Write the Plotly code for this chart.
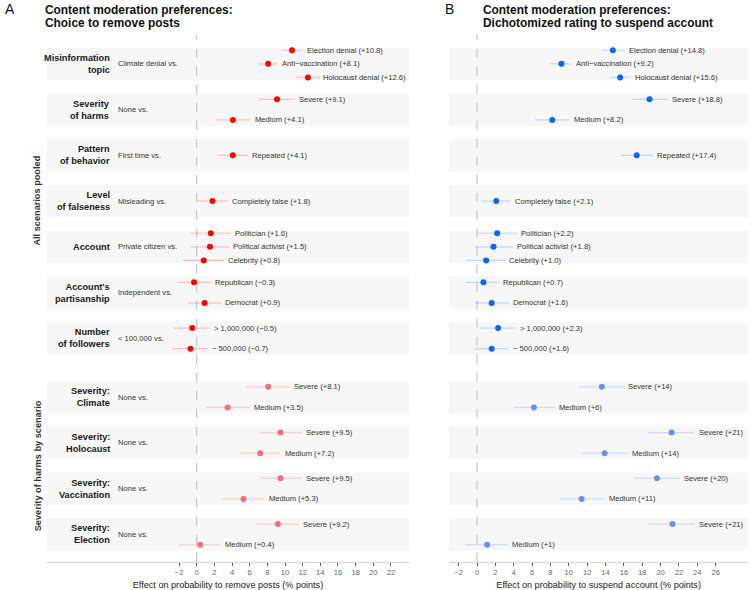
import plotly.graph_objects as go

# ---------------- data ----------------
facet_labels = ["Misinformation<br>topic", "Severity<br>of harms", "Pattern<br>of behavior",
                "Level<br>of falseness", "Account", "Account's<br>partisanship", "Number<br>of followers",
                "Severity:<br>Climate", "Severity:<br>Holocaust", "Severity:<br>Vaccination", "Severity:<br>Election"]
facet_baselines = ["Climate denial vs.", "None vs.", "First time vs.", "Misleading vs.",
                   "Private citizen vs.", "Independent vs.", "< 100,000 vs.",
                   "None vs.", "None vs.", "None vs.", "None vs."]
facet_group = [0, 0, 0, 0, 0, 0, 0, 1, 1, 1, 1]
group_labels = ["All scenarios pooled", "Severity of harms by scenario"]

row_facet = [0, 0, 0, 1, 1, 2, 3, 4, 4, 4, 5, 5, 6, 6, 7, 7, 8, 8, 9, 9, 10, 10]
row_level = ["Election denial", "Anti\u2212vaccination", "Holocaust denial", "Severe", "Medium",
             "Repeated", "Completely false", "Politician", "Political activist", "Celebrity",
             "Republican", "Democrat", "> 1,000,000", "~ 500,000",
             "Severe", "Medium", "Severe", "Medium", "Severe", "Medium", "Severe", "Medium"]

# Panel A: choice to remove posts
remove_est = [10.8, 8.1, 12.6, 9.1, 4.1, 4.1, 1.8, 1.6, 1.5, 0.8, -0.3, 0.9, -0.5, -0.7,
              8.1, 3.5, 9.5, 7.2, 9.5, 5.3, 9.2, 0.4]
remove_lo = [9.6, 7.0, 11.3, 7.0, 2.1, 2.4, 0.1, -0.7, -0.7, -1.6, -2.2, -1.0, -2.6, -2.8,
             5.6, 1.1, 7.1, 4.9, 7.1, 2.9, 6.8, -2.0]
remove_hi = [12.0, 9.2, 13.9, 11.1, 6.1, 5.8, 3.5, 3.9, 3.7, 3.1, 1.6, 2.8, 1.5, 1.3,
             10.6, 6.0, 11.9, 9.5, 11.9, 7.7, 11.6, 2.7]
remove_decimals = [1] * 22

# Panel B: dichotomized rating to suspend account
suspend_est = [14.8, 9.2, 15.6, 18.8, 8.2, 17.4, 2.1, 2.2, 1.8, 1.0, 0.7, 1.6, 2.3, 1.6,
               13.6, 6.2, 21.2, 13.9, 19.6, 11.4, 21.3, 1.1]
suspend_lo = [13.6, 8.0, 14.4, 16.9, 6.3, 15.7, 0.5, 0.0, -0.2, -1.2, -1.2, -0.2, 0.3, -0.3,
              11.1, 4.0, 18.7, 11.4, 17.1, 9.0, 18.7, -1.3]
suspend_hi = [16.1, 10.3, 16.8, 20.8, 10.1, 19.2, 3.7, 4.35, 3.9, 3.05, 2.4, 3.45, 4.2, 3.45,
              16.0, 8.5, 23.7, 16.4, 22.1, 13.9, 23.7, 3.4]
suspend_decimals = [1] * 14 + [0] * 8

remove_ticks = list(range(-2, 23, 2))
suspend_ticks = list(range(-2, 27, 2))

# ---------------- layout constants ----------------
W, H = 750, 590
FONT = "Liberation Sans, Arial, sans-serif"
PX_UNIT = 45.75           # pixels per facet slot
Y0_PX = 47.7              # pixel of first band top
TOP_PX, BOT_PX = 35.0, 561.7
BAND_H = 32.3 / PX_UNIT
GROUP_GAP = 0.285
ROW_SPACING = {1: 0.0, 2: 0.45, 3: 0.297}

def facet_top(i):
    g = facet_group[i]
    return i + (GROUP_GAP if g == 1 else 0.0)

def row_positions():
    ys = []
    for r, f in enumerate(row_facet):
        members = [k for k, ff in enumerate(row_facet) if ff == f]
        n = len(members)
        idx = members.index(r)
        c = facet_top(f) + BAND_H / 2
        ys.append(c + (idx - (n - 1) / 2) * ROW_SPACING[n])
    return ys

row_y = row_positions()

y_range = [(BOT_PX - Y0_PX) / PX_UNIT, (TOP_PX - Y0_PX) / PX_UNIT]
y_domain = [1 - BOT_PX / H, 1 - TOP_PX / H]

# x axes: pixel extents and px/unit
A_L, A_R, A_ZERO, A_PPU = 47.0, 409.0, 196.7, 8.83
B_L, B_R, B_ZERO, B_PPU = 449.0, 748.3, 477.0, 9.18
a_range = [(A_L - A_ZERO) / A_PPU, (A_R - A_ZERO) / A_PPU]
b_range = [(B_L - B_ZERO) / B_PPU, (B_R - B_ZERO) / B_PPU]

colors = {
    ("A", 0): ("#FF0000", "rgba(255,0,0,0.22)"),
    ("A", 1): ("#EC6F82", "rgba(236,111,130,0.28)"),
    ("B", 0): ("#0A68EE", "rgba(10,104,238,0.22)"),
    ("B", 1): ("#6C8FEB", "rgba(108,143,235,0.28)"),
}

fig = go.Figure()
annotations = []
shapes = []

def fmt(v, d):
    s = f"{abs(v):.{d}f}"
    return ("+" if v >= 0 else "\u2212") + s

panels = [("A", "x", remove_est, remove_lo, remove_hi, remove_decimals),
          ("B", "x2", suspend_est, suspend_lo, suspend_hi, suspend_decimals)]

for pname, xa, est, lo, hi, decs in panels:
    for g in (0, 1):
        idx = [r for r in range(len(row_facet)) if facet_group[row_facet[r]] == g]
        pc, lc = colors[(pname, g)]
        fig.add_trace(go.Scatter(
            x=[est[r] for r in idx], y=[row_y[r] for r in idx],
            xaxis=xa, yaxis="y", mode="markers",
            marker=dict(color=pc, size=6),
            error_x=dict(type="data", symmetric=False,
                         array=[hi[r] - est[r] for r in idx],
                         arrayminus=[est[r] - lo[r] for r in idx],
                         color=lc, thickness=1.2, width=0),
            showlegend=False, hoverinfo="skip"))
    for r in range(len(row_facet)):
        annotations.append(dict(
            x=hi[r], y=row_y[r], xref=xa, yref="y", xanchor="left", yanchor="middle",
            xshift=2, showarrow=False,
            text=f"{row_level[r]} ({fmt(est[r], decs[r])})",
            font=dict(family=FONT, size=7.6, color="#333333")))
    # bands
    for f in range(len(facet_labels)):
        shapes.append(dict(type="rect", xref=f"{xa} domain", yref="y", x0=0, x1=1,
                           y0=facet_top(f), y1=facet_top(f) + BAND_H,
                           fillcolor="#F7F7F7", line=dict(width=0), layer="below"))
    # zero line
    shapes.append(dict(type="line", xref=xa, yref="y domain", x0=0, x1=0, y0=0, y1=1,
                       line=dict(color="#BBBBBB", width=1, dash="dash"), layer="below"))

# facet labels
for f in range(len(facet_labels)):
    c = facet_top(f) + BAND_H / 2
    annotations.append(dict(x=112 / W, y=c, xref="paper", yref="y", xanchor="right",
                            yanchor="middle", align="right", showarrow=False,
                            text=f"<b>{facet_labels[f]}</b>",
                            font=dict(family=FONT, size=9.2, color="#1a1a1a")))
    annotations.append(dict(x=116 / W, y=c, xref="paper", yref="y", xanchor="left",
                            yanchor="middle", showarrow=False, text=facet_baselines[f],
                            font=dict(family=FONT, size=7.6, color="#333333")))

# group labels
for g in (0, 1):
    fs = [f for f in range(len(facet_labels)) if facet_group[f] == g]
    c = (facet_top(fs[0]) + facet_top(fs[-1]) + BAND_H) / 2
    annotations.append(dict(x=37.5 / W, y=c, xref="paper", yref="y", xanchor="center",
                            yanchor="middle", textangle=-90, showarrow=False,
                            text=f"<b>{group_labels[g]}</b>",
                            font=dict(family=FONT, size=9.2, color="#333333")))

# titles
titles = [("A", 3, 43, "Content moderation preferences:", "Choice to remove posts"),
          ("B", 443, 481, "Content moderation preferences:", "Dichotomized rating to suspend account")]
for letter, lx, tx, l1, l2 in titles:
    annotations.append(dict(x=lx / W, y=1 - 9 / H, xref="paper", yref="paper", xanchor="left",
                            yanchor="middle", showarrow=False, text=letter,
                            font=dict(family=FONT, size=14, color="#111111")))
    annotations.append(dict(x=tx / W, y=1 - 9.5 / H, xref="paper", yref="paper", xanchor="left",
                            yanchor="middle", showarrow=False, text=f"<b>{l1}</b>",
                            font=dict(family=FONT, size=11.9, color="#111111")))
    annotations.append(dict(x=tx / W, y=1 - 22.5 / H, xref="paper", yref="paper", xanchor="left",
                            yanchor="middle", showarrow=False, text=f"<b>{l2}</b>",
                            font=dict(family=FONT, size=11.9, color="#111111")))

axis_common = dict(showgrid=False, zeroline=False, showline=True, linecolor="#CFCFCF",
                   linewidth=1, ticks="outside", ticklen=3, tickwidth=1, tickcolor="#555555",
                   tickfont=dict(family=FONT, size=7.6, color="#666666"), anchor="y",
                   title_standoff=6)

fig.update_layout(
    width=W, height=H, margin=dict(l=0, r=0, t=0, b=0),
    paper_bgcolor="white", plot_bgcolor="rgba(0,0,0,0)",
    xaxis=dict(domain=[A_L / W, A_R / W], range=a_range, tickvals=remove_ticks,
               ticktext=[("\u2212" + str(-t)) if t < 0 else str(t) for t in remove_ticks],
               title=dict(text="Effect on probability to remove posts (% points)",
                          font=dict(family=FONT, size=9.1, color="#222222")),
               **axis_common),
    xaxis2=dict(domain=[B_L / W, B_R / W], range=b_range, tickvals=suspend_ticks,
                ticktext=[("\u2212" + str(-t)) if t < 0 else str(t) for t in suspend_ticks],
                title=dict(text="Effect on probability to suspend account (% points)",
                           font=dict(family=FONT, size=9.1, color="#222222")),
                **axis_common),
    yaxis=dict(domain=y_domain, range=y_range, showgrid=False, zeroline=False,
               showticklabels=False, showline=False, ticks=""),
    annotations=annotations, shapes=shapes,
)

fig.write_html("out.html", config={"displayModeBar": False},
               post_script="document.body.style.margin='0';document.body.style.padding='0';"
                           "document.body.style.overflow='hidden';")
